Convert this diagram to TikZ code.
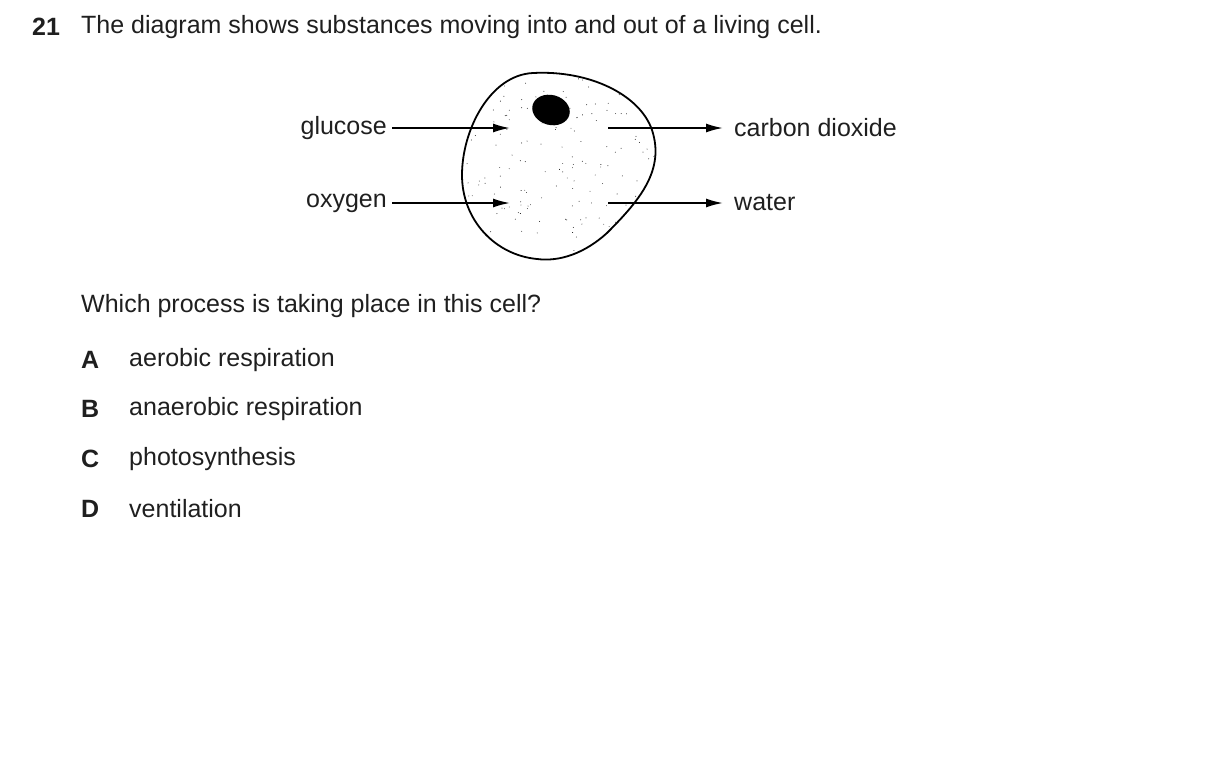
\documentclass[tikz,border=0pt]{standalone}
\usepackage{fontspec}
\setmainfont{Liberation Sans}
\usetikzlibrary{arrows.meta}
\begin{document}
\begin{tikzpicture}[x=1pt,y=-1pt,
  txt/.style={inner sep=0pt,text=black!88,font=\fontsize{25}{29}\selectfont},
  btxt/.style={txt,font=\fontsize{25}{29}\selectfont\bfseries},
  arr/.style={line width=1.8pt,-{Latex[length=17pt,width=9pt]}}]
\useasboundingbox (0,0) rectangle (1209,772);
\node[btxt,anchor=west] (num) at (32,27) {21};
\node[txt,anchor=west] (title) at (81,27) {The diagram shows substances moving into and out of a living cell.};
% cell
\def\cellpath{(533,73) .. controls (590,70) and (640,95) .. (652,130)
  .. controls (665,170) and (640,200) .. (607,233)
  .. controls (585,253) and (560,262) .. (537,259)
  .. controls (495,255) and (462,220) .. (462,175)
  .. controls (462,130) and (490,75) .. (533,73) -- cycle}
\begin{scope}
\clip \cellpath;
\pgfmathsetseed{11}
\foreach \i in {1,...,200}{
  \pgfmathsetmacro\px{460+200*rnd}\pgfmathsetmacro\py{70+195*rnd}
  \fill (\px,\py) circle (0.45pt);}
\end{scope}
\draw[line width=1.8pt] \cellpath;
\fill[rotate around={-15:(551,110)}] (551,110) ellipse (19 and 15);
\node[txt,anchor=east] (glu) at (387,128) {glucose};
\node[txt,anchor=east] (oxy) at (387,203) {oxygen};
\node[txt,anchor=west] (co2) at (734,128) {carbon dioxide};
\node[txt,anchor=west] (wat) at (734,203) {water};
\coordinate (g1) at (510,128); \coordinate (o1) at (510,203);
\coordinate (c0) at (608,128); \coordinate (w0) at (608,203);
\draw[arr] ([xshift=5pt]glu.east) -- (g1);
\draw[arr] ([xshift=5pt]oxy.east) -- (o1);
\draw[arr] (c0) -- ([xshift=-11pt]co2.west);
\draw[arr] (w0) -- ([xshift=-11pt]wat.west);
\node[txt,anchor=west] (q) at (81,306) {Which process is taking place in this cell?};
\foreach \L/\T/\y in {A/aerobic respiration/360,B/anaerobic respiration/409,C/photosynthesis/459,D/ventilation/509}{
  \node[btxt,anchor=west] (l\L) at (81,\y) {\L};
  \node[txt,anchor=west] (t\L) at (129,\y) {\T};}
\end{tikzpicture}
\end{document}
